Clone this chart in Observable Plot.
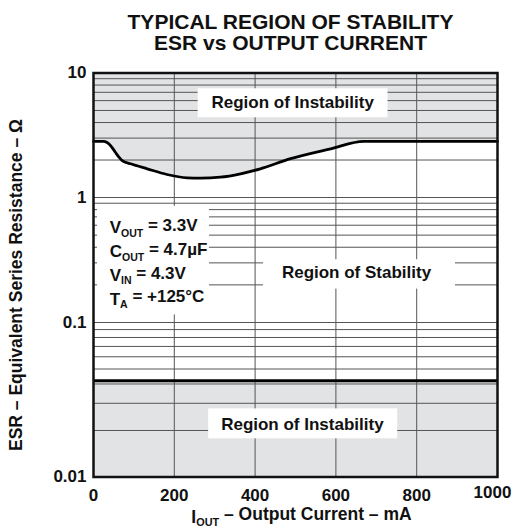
<!DOCTYPE html>
<html>
<head>
<meta charset="utf-8">
<script src="https://cdn.jsdelivr.net/npm/d3@7"></script>
<script src="https://cdn.jsdelivr.net/npm/@observablehq/plot@0.6"></script>
<style>
  html, body { margin: 0; padding: 0; background: #fff; }
  #chart svg { display: block; }
</style>
</head>
<body>
<div id="chart"></div>
<script>
// ---- Data ----
const titleLines = ["TYPICAL REGION OF STABILITY", "ESR vs OUTPUT CURRENT"];
const xLabel = "I_{OUT} – Output Current – mA";
const yLabel = "ESR – Equivalent Series Resistance – Ω";

const xTicks = [0, 200, 400, 600, 800];
const xLastTick = [1000];
const yTicks = [0.01, 0.1, 1, 10];
const yGrid = [0.02, 0.03, 0.04, 0.05, 0.06, 0.07, 0.08, 0.09, 0.1,
               0.2, 0.3, 0.4, 0.5, 0.6, 0.7, 0.8, 0.9, 1,
               2, 3, 4, 5, 6, 7, 8, 9];
const xGrid = [200, 400, 600, 800];

// upper stability boundary (mA, ohm)
const boundaryCurrent = [0, 25, 42, 54, 63, 71, 92, 133, 182, 232, 265, 314, 364, 413, 488, 587, 669, 1000];
const boundaryEsr     = [2.82, 2.82, 2.62, 2.31, 2.11, 1.98, 1.865, 1.70, 1.53, 1.44, 1.43, 1.456, 1.55, 1.70, 2.05, 2.46, 2.82, 2.82];
// lower stability boundary (ohm)
const lowerEsr = 0.042;

// region labels
const regionLabels = ["Region of Instability", "Region of Stability", "Region of Instability"];
const regionX = [493, 651, 517];
const regionY = [5.8, 0.251, 0.0219];
const boxX1 = [259, 421, 285];
const boxX2 = [729, 896, 753];
const boxY1 = [4.37, 0.185, 0.01766];
const boxY2 = [7.47, 0.318, 0.0276];

// test condition labels
const condLabels = ["V_{OUT} = 3.3V", "C_{OUT} = 4.7µF", "V_{IN} = 4.3V", "T_{A} = +125°C"];
const condX = 40;
const condY = [0.57, 0.37, 0.2385, 0.1533];
const condBox = {x1: 10, x2: 287, y1: 0.115, y2: 0.85};

// ---- Build ----
const boundary = boundaryCurrent.map((x, i) => ({x, y: boundaryEsr[i]}));
const regions = regionLabels.map((t, i) => ({t, x: regionX[i], y: regionY[i], x1: boxX1[i], x2: boxX2[i], y1: boxY1[i], y2: boxY2[i]}));
const conds = condLabels.map((t, i) => ({t, x: condX, y: condY[i]}));

const FONT = "'Liberation Sans', Arial, Helvetica, sans-serif";
const shade = "#e2e3e5";
const ink = "#111";
const grid = "#555";

const chart = Plot.plot({
  width: 513,
  height: 531,
  marginTop: 72.5,
  marginBottom: 54.5,
  marginLeft: 93,
  marginRight: 16,
  style: {fontFamily: FONT, fontWeight: "bold", fontSize: "17px", color: ink, background: "#fff"},
  x: {domain: [0, 1000]},
  y: {type: "log", domain: [0.01, 0.1, 1, 10], range: [476.5, 322, 197, 72.5]},
  marks: [
    // shaded instability regions
    Plot.areaY(boundary, {x: "x", y1: "y", y2: () => 10, fill: shade, curve: "monotone-x"}),
    Plot.rect([lowerEsr], {x1: 0, x2: 1000, y1: 0.01, y2: d => d, fill: shade}),
    // grid
    Plot.ruleY(yGrid, {stroke: grid, strokeWidth: 1}),
    Plot.ruleX(xGrid, {stroke: grid, strokeWidth: 1}),
    // white label boxes
    Plot.rect(regions, {x1: "x1", x2: "x2", y1: "y1", y2: "y2", fill: "white"}),
    Plot.rect([condBox], {x1: "x1", x2: "x2", y1: "y1", y2: "y2", fill: "white"}),
    // boundaries
    Plot.line(boundary, {x: "x", y: "y", stroke: "black", strokeWidth: 2.8, curve: "monotone-x"}),
    Plot.ruleY([lowerEsr], {stroke: "black", strokeWidth: 3}),
    // labels
    Plot.text(regions, {x: "x", y: "y", text: "t", fontSize: 17, fontWeight: "bold", fill: ink}),
    Plot.text(conds, {x: "x", y: "y", text: "t", textAnchor: "start", fontSize: 17, fontWeight: "bold", fill: ink}),
    // frame
    Plot.frame({stroke: ink, strokeWidth: 2.5}),
    // axes
    Plot.axisX(xTicks, {tickSize: 0, tickPadding: 12, fontSize: 17, fontWeight: "bold", label: null, tickFormat: d => String(d)}),
    Plot.axisX(xLastTick, {tickSize: 0, tickPadding: 9, dx: -5, fontSize: 17, fontWeight: "bold", label: null, tickFormat: d => String(d)}),
    Plot.axisY(yTicks, {tickSize: 0, tickPadding: 7, fontSize: 17, fontWeight: "bold", label: null, tickFormat: d => String(d)}),
    // titles
    Plot.text([titleLines[0]], {frameAnchor: "top", lineAnchor: "middle", dx: -5, dy: -51, fontSize: 21, fontWeight: "bold", fill: ink}),
    Plot.text([titleLines[1]], {frameAnchor: "top", lineAnchor: "middle", dx: -5, dy: -30, fontSize: 21, fontWeight: "bold", fill: ink}),
    Plot.text([xLabel], {frameAnchor: "bottom", lineAnchor: "middle", textAnchor: "middle", dx: 6, dy: 40, fontSize: 17.5, fontWeight: "bold", fill: ink}),
    Plot.text([yLabel], {frameAnchor: "left", lineAnchor: "middle", textAnchor: "middle", dx: -77, dy: 10, rotate: -90, fontSize: 17.5, fontWeight: "bold", fill: ink})
  ]
});

// subscript post-processing: "X_{SUB}rest"
d3.select(chart).selectAll("text").each(function() {
  if (this.querySelector("tspan")) {
    d3.select(this).selectAll("tspan").each(function() { convert(d3.select(this)); });
  } else {
    convert(d3.select(this));
  }
});
function convert(el) {
  const s = el.text();
  if (!s.includes("_{")) return;
  const parts = s.split(/_\{([^}]*)\}/);
  el.text(null);
  parts.forEach((p, i) => {
    if (!p) return;
    if (i % 2 === 1) {
      el.append("tspan").attr("font-size", "0.62em").attr("dy", "0.35em").text(p);
    } else {
      const t = el.append("tspan").text(p);
      if (i > 0) t.attr("dy", "-0.35em");
    }
  });
}

document.getElementById("chart").appendChild(chart);
</script>
</body>
</html>
